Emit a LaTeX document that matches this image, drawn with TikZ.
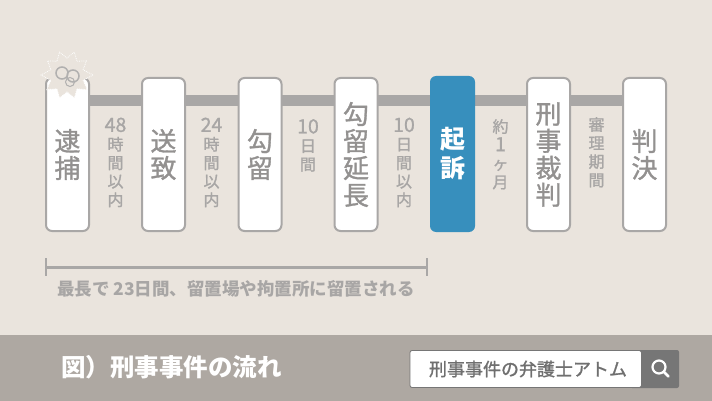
\documentclass[tikz,border=0pt]{standalone}
\usepackage{fontspec}
\setmainfont{Noto Sans CJK JP}
\newfontfamily\med[FakeBold=1.2]{Noto Sans CJK JP}
\usetikzlibrary{shapes.geometric,calc}
\definecolor{bgc}{HTML}{EAE4DD}
\definecolor{lin}{HTML}{A9A7A6}
\definecolor{txt}{HTML}{A8A6A5}
\definecolor{steptxt}{HTML}{939190}
\definecolor{bluec}{HTML}{378FBD}
\definecolor{band}{HTML}{AEA8A2}
\definecolor{searchbtn}{HTML}{767676}
\definecolor{searchtxt}{HTML}{6F6F6F}
\tikzset{
 stepbox/.style={draw=lin,line width=2pt,fill=white,rounded corners=6pt,minimum width=43pt,minimum height=153pt,anchor=north west,inner sep=0pt,text=steptxt,font=\fontsize{26}{27}\med,align=center},
 bluebox/.style={stepbox,draw=none,fill=bluec,minimum width=45pt,minimum height=156pt,text=white,font=\fontsize{25}{29}\bfseries},
 period/.style={text=txt,font=\fontsize{16}{18.5}\med,align=center,inner sep=0pt,anchor=north},
 rail/.style={draw=lin,line width=11pt},
 brace/.style={draw=lin,line width=2.5pt},
}
\newcommand{\dg}[1]{{\fontsize{19.5}{18.5}\selectfont #1}}
\begin{document}
\begin{tikzpicture}[x=1pt,y=-1pt]
\useasboundingbox (0,0) rectangle (712,401);
\fill[bgc] (0,0) rectangle (712,401);
% rail
\coordinate (railstart) at (67,100.5);
\coordinate (railend) at (644,100.5);
\draw[rail] (railstart) -- (railend);
% boxes
\node[stepbox] (b1) at (45,77) {逮\\捕};
\node[stepbox] (b2) at (141,77) {送\\致};
\node[stepbox] (b3) at (237.5,77) {勾\\留};
\node[stepbox] (b4) at (333.5,77) {勾\\留\\延\\長};
\node[bluebox] (b5) at (429,75) {起\\訴};
\node[stepbox] (b6) at (526,77) {刑\\事\\裁\\判};
\node[stepbox] (b7) at (622,77) {判\\決};
% periods
\node[period] (p1) at (115.5,117.5) {\dg{48}\\時\\間\\以\\内};
\node[period] (p2) at (211.5,117.5) {\dg{24}\\時\\間\\以\\内};
\node[period] (p3) at (308,119) {\dg{10}\\日\\間};
\node[period] (p4) at (404,117.5) {\dg{10}\\日\\間\\以\\内};
\node[period] (p5) at (500.5,119) {約\\\dg{1}\\ヶ\\月};
\node[period] (p6) at (596.5,117) {審\\理\\期\\間};
% burst
\fill[bgc] (94,75)
 \foreach \a/\r in {18/17,36/25,54/17,72/24,90/17,108/24,126/17,144/25,162/17,180/26,198/17,216/24,234/17,252/24,270/17,288/24,306/17,324/24,342/17} { -- ($(67,75)+(\a:\r)$) } -- cycle;
\draw[white,densely dotted,line width=.8pt] (93,75)
 \foreach \a/\r in {18/17,36/25,54/17,72/24,90/17,108/24,126/17,144/25,162/17,180/26,198/17,216/24,234/17,252/24,270/17,288/24,306/17,324/24,342/17} { -- ($(67,75)+(\a:\r)$) } -- cycle;
\draw[lin!90!white,line width=1.5pt] (62,73) circle (6pt) (73,76) circle (6pt);
\draw[lin!90!white,line width=1pt] (70,82) circle (4.5pt);
% span
\coordinate (sa) at (46,267.5);
\coordinate (sb) at (427,267.5);
\draw[brace] (sa) -- (sb);
\draw[brace] (46,258) -- (46,276);
\draw[brace] (427,258) -- (427,276);
\node[text=txt,font=\fontsize{17.5}{20}\bfseries,inner sep=0pt] (note) at (236,288.5) {最長で 23日間、留置場や拘置所に留置される};
% footer
\fill[band] (0,335) rectangle (712,401);
\node[text=white,font=\fontsize{24.5}{28}\bfseries,inner sep=0pt,anchor=west] (title) at (61,367) {図）刑事事件の流れ};
\fill[searchbtn,rounded corners=2pt] (630,350) rectangle (679,388);
\fill[white,rounded corners=2pt] (410,351) -- (410,387) -- (641,387) -- (641,351) -- cycle;
\draw[searchbtn,line width=.8pt,rounded corners=2pt] (410,350.5) rectangle (642,387.5);
\fill[searchbtn] (641,350) rectangle (650,388);
\node[text=searchtxt,font=\fontsize{18}{21}\med,inner sep=0pt] (search) at (528,369) {刑事事件の弁護士アトム};
\draw[white,line width=2.2pt] (659,367) circle (6.5pt);
\draw[white,line width=2.6pt,line cap=round] (664,372) -- (668.5,376.5);
\end{tikzpicture}
\end{document}
